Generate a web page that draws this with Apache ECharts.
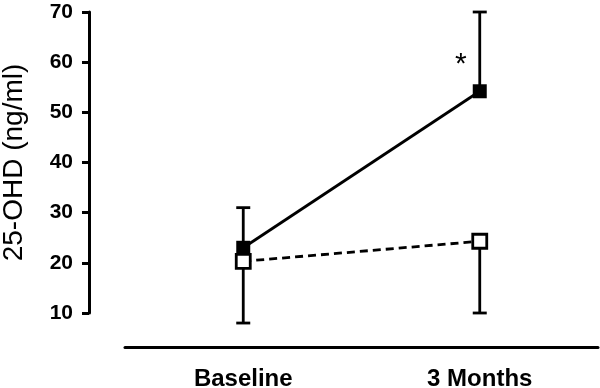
<!DOCTYPE html>
<html>
<head>
<meta charset="utf-8">
<script src="https://cdn.jsdelivr.net/npm/echarts@6/dist/echarts.min.js"></script>
<style>
    html, body { margin: 0; padding: 0; background: #fff; }
    #main { width: 600px; height: 388px; }
</style>
</head>
<body>
<div id="main"></div>
<script>
var categories = ['Baseline', '3 Months'];
var yTicks = [10, 20, 30, 40, 50, 60, 70];
var filledMean = [23, 54.2];   // filled squares, solid line
var filledUpper = [31, 70];    // upper whisker
var openMean = [20.3, 24.3];   // open squares, dashed line
var openLower = [8, 10];       // lower whisker
var sigMark = ['', '*'];       // asterisk above 3 Months

function errData(mean, end) {
    var arr = [];
    for (var i = 0; i < mean.length; i++) {
        arr.push([i, mean[i], end[i]]);
    }
    return arr;
}

//竖线误差棒
function renderErr(params, api) {
    var p1 = api.coord([api.value(0), api.value(1)]);
    var p2 = api.coord([api.value(0), api.value(2)]);
    var style = {stroke: '#000', lineWidth: 2.8};
    return {
        type: 'group',
        children: [
            {type: 'line', shape: {x1: p1[0], y1: p1[1], x2: p2[0], y2: p2[1]}, style: style},
            {type: 'line', shape: {x1: p2[0] - 7, y1: p2[1], x2: p2[0] + 7, y2: p2[1]}, style: style}
        ]
    };
}

var myChart = echarts.init(document.getElementById('main'));
var option = {
    animation: false,
    grid: {left: 125, right: 2, top: 12, bottom: 75, outerBoundsMode: 'none', containLabel: false},
    xAxis: {
        type: 'category',
        data: categories,
        offset: 34,
        axisLine: {lineStyle: {color: '#000', width: 3}},
        axisTick: {alignWithLabel: true, length: 10, lineStyle: {color: '#000', width: 3}},
        axisLabel: {
            color: '#000', fontFamily: 'Arial', fontWeight: 'bold', fontSize: 24, margin: 20
        }
    },
    yAxis: {
        type: 'value',
        min: yTicks[0],
        max: yTicks[yTicks.length - 1],
        interval: 10,
        offset: 36,
        name: '25-OHD (ng/ml)',
        nameLocation: 'middle',
        nameRotate: 90,
        nameGap: 61,
        nameTextStyle: {color: '#000', fontFamily: 'Arial', fontSize: 28},
        splitLine: {show: false},
        axisLine: {show: true, lineStyle: {color: '#000', width: 3}},
        axisTick: {show: true, length: 7, lineStyle: {color: '#000', width: 3}},
        axisLabel: {
            color: '#000', fontFamily: 'Arial', fontWeight: 'bold', fontSize: 21, margin: 16
        }
    },
    series: [
        {
            type: 'custom',
            renderItem: renderErr,
            data: errData(filledMean, filledUpper),
            z: 1
        },
        {
            type: 'custom',
            renderItem: renderErr,
            data: errData(openMean, openLower),
            z: 1
        },
        {
            type: 'line',
            data: filledMean.map(function (v, i) {
                return {
                    value: v,
                    label: {
                        show: sigMark[i] !== '',
                        formatter: sigMark[i],
                        position: 'top',
                        offset: [-19, 0],
                        color: '#000',
                        fontFamily: 'Arial',
                        fontSize: 30
                    }
                };
            }),
            symbol: 'rect',
            symbolSize: 14,
            itemStyle: {color: '#000'},
            lineStyle: {color: '#000', width: 2.8},
            z: 3
        },
        {
            type: 'line',
            data: openMean,
            symbol: 'rect',
            symbolSize: 14,
            itemStyle: {color: '#fff', borderColor: '#000', borderWidth: 2.8},
            lineStyle: {color: '#000', width: 2.8, type: [8, 5]},
            z: 4
        }
    ]
};
myChart.setOption(option);
</script>
</body>
</html>
